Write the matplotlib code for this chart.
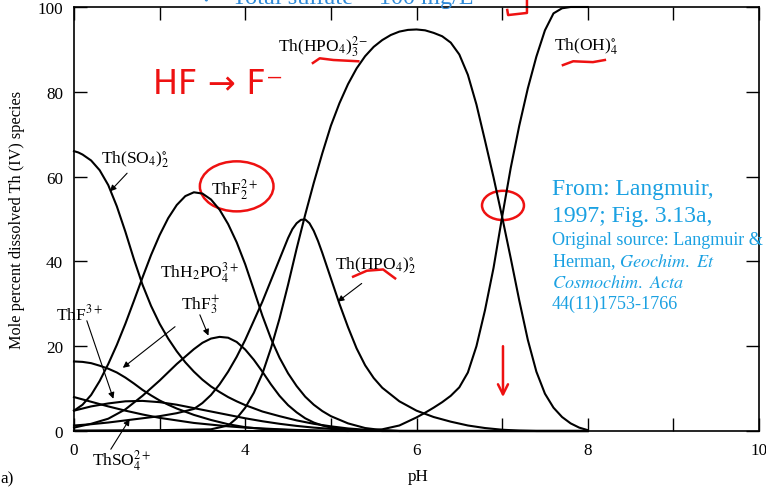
import matplotlib
matplotlib.use('Agg')
import matplotlib.pyplot as plt
from matplotlib.patches import Ellipse

plt.rcParams['font.family'] = ['Liberation Serif', 'DejaVu Serif']
plt.rcParams['mathtext.fontset'] = 'stix'

# ---------------- data (mole percent of dissolved Th(IV) vs pH) ----------------
ph_so4_2 = [2.0, 2.05, 2.1, 2.2, 2.3, 2.4, 2.5, 2.6, 2.7, 2.8, 2.9, 3.0, 3.1, 3.2, 3.3, 3.4,
            3.5, 3.6, 3.7, 3.8, 3.9, 4.0, 4.2, 4.4, 4.6, 4.8, 5.0, 5.2, 5.4, 5.6, 5.8, 8.0]
th_so4_2 = [66.0, 65.7, 65.2, 63.8, 61.5, 58.0, 53.0, 47.0, 40.5, 34.5, 29.5, 25.3, 21.8,
            18.8, 16.2, 14.0, 12.1, 10.5, 9.2, 8.0, 7.0, 6.1, 4.6, 3.5, 2.5, 1.7, 1.1, 0.6,
            0.3, 0.1, 0.0, 0.0]

ph_f2 = [2.0, 2.1, 2.2, 2.3, 2.4, 2.5, 2.6, 2.7, 2.8, 2.9, 3.0, 3.1, 3.2, 3.3, 3.4, 3.5, 3.6,
         3.7, 3.8, 3.9, 4.0, 4.1, 4.2, 4.3, 4.4, 4.5, 4.6, 4.7, 4.8, 4.9, 5.0, 5.2, 5.4, 5.6,
         5.8, 8.0]
th_f2 = [4.8, 6.2, 8.5, 11.8, 15.8, 20.3, 25.3, 30.7, 36.2, 41.5, 46.2, 50.2, 53.3, 55.4,
         56.3, 56.0, 54.6, 52.2, 48.8, 44.5, 39.3, 33.3, 27.2, 21.8, 17.3, 13.6, 10.6, 8.1,
         6.2, 4.7, 3.5, 1.8, 0.7, 0.2, 0.0, 0.0]

ph_h2po4 = [2.0, 2.1, 2.2, 2.3, 2.4, 2.5, 2.6, 2.7, 2.8, 2.9, 3.0, 3.1, 3.2, 3.4, 3.6, 3.8,
            4.0, 4.2, 4.4, 4.6, 5.0, 8.0]
th_h2po4 = [16.4, 16.3, 16.0, 15.4, 14.7, 13.8, 12.6, 11.2, 9.7, 8.4, 7.2, 6.2, 5.3, 3.8,
            2.6, 1.6, 0.9, 0.5, 0.3, 0.15, 0.0, 0.0]

ph_f1 = [2.0, 2.2, 2.4, 2.6, 2.8, 3.0, 3.2, 3.4, 3.6, 3.8, 4.0, 4.2, 4.4, 4.6, 4.8, 5.0,
         5.2, 5.4, 5.6, 8.0]
th_f1 = [4.8, 5.8, 6.5, 7.0, 7.1, 6.8, 6.2, 5.4, 4.6, 3.8, 3.0, 2.3, 1.7, 1.2, 0.8, 0.5,
         0.3, 0.1, 0.0, 0.0]

ph_so4_1 = [2.0, 2.2, 2.4, 2.6, 2.8, 3.0, 3.2, 3.4, 3.6, 3.8, 4.0, 4.2, 4.4, 4.6, 4.8, 5.0,
            5.2, 8.0]
th_so4_1 = [8.0, 6.9, 5.8, 4.8, 3.9, 3.1, 2.5, 1.9, 1.5, 1.1, 0.8, 0.6, 0.4, 0.25, 0.15,
            0.05, 0.0, 0.0]

ph_f3 = [2.0, 2.2, 2.4, 2.6, 2.8, 3.0, 3.2, 3.4, 3.5, 3.6, 3.7, 3.8, 3.9, 4.0, 4.1, 4.2,
         4.3, 4.4, 4.5, 4.6, 4.7, 4.8, 4.9, 5.0, 5.2, 5.4, 5.6, 8.0]
th_f3 = [0.8, 1.7, 2.9, 5.1, 8.3, 11.9, 15.8, 19.3, 20.8, 21.8, 22.2, 22.0, 21.0, 19.2,
         16.8, 14.0, 11.0, 8.3, 6.1, 4.4, 3.0, 2.0, 1.3, 0.8, 0.3, 0.1, 0.0, 0.0]

ph_hpo4_2 = [2.0, 2.2, 2.4, 2.6, 2.8, 3.0, 3.2, 3.4, 3.5, 3.6, 3.7, 3.8, 3.9, 4.0, 4.1, 4.2,
             4.3, 4.4, 4.5, 4.55, 4.6, 4.65, 4.7, 4.75, 4.8, 4.85, 4.9, 5.0, 5.1, 5.2, 5.3,
             5.4, 5.5, 5.6, 5.8, 6.0, 6.2, 6.4, 6.6, 6.8, 7.0, 7.2, 7.4, 8.0]
th_hpo4_2 = [1.3, 1.6, 2.0, 2.5, 3.0, 3.5, 4.2, 5.2, 6.6, 8.5, 11.0, 14.0, 17.5, 21.5, 26.0,
             30.5, 35.5, 40.5, 45.5, 47.6, 49.0, 49.8, 49.9, 49.0, 47.2, 44.8, 42.0, 36.0,
             30.0, 24.5, 19.5, 15.5, 12.5, 10.2, 7.0, 4.8, 3.3, 2.2, 1.3, 0.7, 0.3, 0.1, 0.0,
             0.0]

ph_hpo4_3 = [2.0, 3.0, 3.6, 3.8, 3.9, 4.0, 4.1, 4.2, 4.3, 4.4, 4.5, 4.6, 4.7, 4.8, 4.9, 5.0,
             5.1, 5.2, 5.3, 5.4, 5.5, 5.6, 5.7, 5.8, 5.9, 6.0, 6.1, 6.2, 6.3, 6.4, 6.5, 6.6,
             6.7, 6.8, 6.9, 7.0, 7.1, 7.2, 7.3, 7.4, 7.5, 7.6, 7.7, 7.8, 7.9, 8.0]
th_hpo4_3 = [0.1, 0.2, 0.4, 1.3, 3.0, 5.5, 9.0, 13.5, 19.5, 26.5, 34.5, 43.0, 51.0, 58.5,
             65.5, 72.0, 77.3, 81.8, 85.5, 88.4, 90.6, 92.2, 93.4, 94.2, 94.6, 94.7, 94.5,
             93.9, 93.1, 91.6, 88.8, 84.0, 77.0, 68.5, 59.8, 50.5, 40.8, 30.8, 21.5, 14.0,
             8.8, 5.5, 3.3, 1.8, 0.8, 0.2]

ph_oh4 = [2.0, 5.2, 5.4, 5.6, 5.8, 6.0, 6.1, 6.2, 6.3, 6.4, 6.5, 6.6, 6.7, 6.8, 6.9, 7.0,
          7.1, 7.2, 7.3, 7.4, 7.5, 7.6, 7.7, 7.8, 8.0]
th_oh4 = [0.0, 0.0, 0.1, 0.4, 1.3, 3.2, 4.3, 5.5, 6.8, 8.3, 10.3, 13.8, 20.0, 28.5, 38.5,
          50.5, 62.0, 72.0, 80.8, 88.3, 94.5, 98.5, 99.7, 100.0, 100.0]

x_ticks = [2, 3, 4, 5, 6, 7, 8, 9, 10]
x_tick_labels = ['0', '', '4', '', '6', '', '8', '', '10']
y_ticks = [0, 20, 40, 60, 80, 100]
y_tick_labels = ['0', '20', '40', '60', '80', '100']

curves = [(ph_so4_2, th_so4_2), (ph_f2, th_f2), (ph_h2po4, th_h2po4), (ph_f1, th_f1),
          (ph_so4_1, th_so4_1), (ph_f3, th_f3), (ph_hpo4_2, th_hpo4_2),
          (ph_hpo4_3, th_hpo4_3), (ph_oh4, th_oh4)]

# ---------------- figure ----------------
W, H = 766, 489
fig = plt.figure(figsize=(W / 100, H / 100), dpi=100)
fig.patch.set_facecolor('white')
ax = fig.add_axes([74 / W, 1 - 432 / H, 685 / W, 424 / H])

for ph, val in curves:
    ax.plot(ph, val, color='black', lw=1.5, clip_on=False, solid_joinstyle='round')

ax.set_xlim(2, 10)
ax.set_ylim(0, 100)
ax.set_xticks(x_ticks)
ax.set_xticklabels(x_tick_labels)
ax.set_yticks(y_ticks)
ax.set_yticklabels(y_tick_labels)
ax.tick_params(direction='in', length=9.5, width=1.0, top=True, right=True,
               labelsize=12.3, pad=8, colors='black')
for s in ax.spines.values():
    s.set_linewidth(1.2)

ax.set_ylabel('Mole percent dissolved Th (IV) species', fontsize=11.7)
ax.yaxis.set_label_coords(-0.071, 0.5)
ax.set_xlabel('pH', fontsize=12.3)
ax.xaxis.set_label_coords(0.502, -0.088)

# species labels
lab_fs = 12.5
arrow_kw = dict(arrowstyle='-|>', color='black', lw=0.8, mutation_scale=9,
                shrinkA=0, shrinkB=0)
labels = [
    (r'Th(HPO$_4$)$_3^{2-}$', 4.91, 91.0, None, None),
    (r'Th(OH)$_4^{\circ}$', 7.98, 91.0, None, None),
    (r'Th(SO$_4$)$_2^{\circ}$', 2.71, 64.3, (2.62, 60.8), (2.42, 56.5)),
    (r'ThF$_2^{2+}$', 3.87, 57.2, None, None),
    (r'ThH$_2$PO$_4^{3+}$', 3.47, 37.6, (3.18, 24.6), (2.57, 14.9)),
    (r'ThF$_3^{+}$', 3.48, 29.8, (3.47, 27.4), (3.57, 22.5)),
    (r'ThF$^{3+}$', 2.06, 27.7, (2.15, 26.0), (2.46, 7.6)),
    (r'ThSO$_4^{2+}$', 2.56, -6.8, (2.43, -4.3), (2.65, 2.8)),
    (r'Th(HPO$_4$)$_2^{\circ}$', 5.52, 39.2, (5.36, 34.8), (5.08, 30.5)),
]
for txt, x, y, start, tip in labels:
    ax.text(x, y, txt, fontsize=lab_fs, ha='center', va='center', clip_on=False)
    if start is not None:
        ax.annotate('', xy=tip, xytext=start, arrowprops=arrow_kw, annotation_clip=False)

fig.text(0.5 / W, 1 - 479 / H, 'a)', fontsize=12.3, ha='left', va='center')

# blue source text
blue = '#1ba1e2'
fx = 552 / W
fig.text(fx, 1 - 195 / H, 'From: Langmuir,', color=blue, fontsize=17, va='baseline')
fig.text(fx, 1 - 222 / H, '1997; Fig. 3.13a,', color=blue, fontsize=17, va='baseline')
fig.text(fx, 1 - 245 / H, 'Original source: Langmuir &', color=blue, fontsize=13.1,
         va='baseline')
fig.text(fx, 1 - 267 / H, r'Herman, $\mathit{Geochim.\ Et}$', color=blue, fontsize=13.1,
         va='baseline')
fig.text(fx, 1 - 288 / H, r'$\mathit{Cosmochim.\ Acta}$', color=blue, fontsize=13.1,
         va='baseline')
fig.text(fx, 1 - 309 / H, '44(11)1753-1766', color=blue, fontsize=13.1, va='baseline')
fig.text(232 / W, 1 - 4 / H, 'Total sulfate = 100 mg/L', color='#2f8ad8', fontsize=17.5,
         va='baseline')
fig.text(203 / W, 1 - 4 / H, '\u2022', color='#2f8ad8', fontsize=10, va='baseline')

# red handwritten marks (in data coordinates)
red = '#ee1111'
ax.text(3.68, 82.0, 'HF \u2192 F\u207b', color=red, fontsize=24, ha='center', va='center',
        family='DejaVu Sans')
ax.add_patch(Ellipse((3.90, 57.7), 0.86, 11.8, fill=False, ec=red, lw=1.8, clip_on=False))
ax.add_patch(Ellipse((7.01, 53.2), 0.49, 6.9, fill=False, ec=red, lw=1.8, clip_on=False))
ax.plot([4.79, 4.87, 5.03, 5.32], [86.8, 87.9, 87.5, 87.2], color=red, lw=1.8, clip_on=False)
ax.plot([7.71, 7.83, 8.06, 8.20], [86.3, 87.2, 87.0, 87.5], color=red, lw=1.8, clip_on=False)
ax.plot([5.26, 5.42, 5.61, 5.75], [36.4, 37.8, 38.1, 36.0], color=red, lw=1.8, clip_on=False)
ax.annotate('', xy=(7.01, 8.0), xytext=(7.01, 20.0), annotation_clip=False,
            arrowprops=dict(arrowstyle='->', color=red, lw=1.8, mutation_scale=18,
                            shrinkA=0, shrinkB=0))
ax.plot([7.29, 7.29, 7.07, 7.06], [102.1, 98.6, 98.1, 99.3], color=red, lw=1.8, clip_on=False)

fig.savefig('out.png', dpi=100, facecolor='white')
